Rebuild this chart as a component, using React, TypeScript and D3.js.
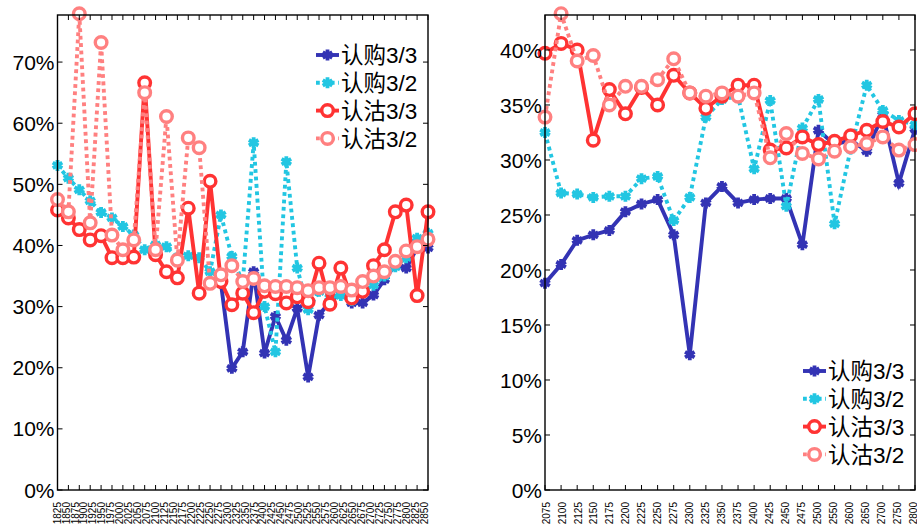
import React from "react";
import * as d3 from "d3";

// ---------- data ----------
const leftTickLabels = ["1825","1850","1875","1900","1925","1950","1975","2000","2025","2050","2075","2100","2125","2150","2175","2200","2225","2250","2275","2300","2325","2350","2375","2400","2425","2450","2475","2500","2525","2550","2575","2600","2625","2650","2675","2700","2725","2750","2775","2800","2825","2850"];
const rightTickLabels = ["2075","2100","2125","2150","2175","2200","2225","2250","2275","2300","2325","2350","2375","2400","2425","2450","2475","2500","2550","2600","2650","2700","2750","2800"];

const seriesNames = ["认购3/3", "认购3/2", "认沽3/3", "认沽3/2"];

const leftCall33: (number | null)[] = [null, null, null, null, null, null, null, null, null, null, null, null, null, null, null, 33.8, 19.9, 22.6, 35.7, 22.4, 28.4, 24.5, 29.7, 18.5, 28.6, 30.8, 32.2, 30.6, 30.6, 31.9, 34.4, 36.8, 36.3, 39.6, 39.6];
const leftCall32: (number | null)[] = [53.1, 51.0, 49.1, 47.3, 45.4, 44.5, 43.1, 41.7, 39.3, 40.1, 39.8, 38.0, 38.3, 38.0, 35.7, 45.0, 38.2, 34.0, 56.8, 30.0, 22.6, 53.7, 36.3, 29.5, 32.5, 31.5, 31.8, 31.0, 32.5, 33.5, 35.0, 36.5, 38.0, 41.2, 42.0];
const leftPut33: (number | null)[] = [45.8, 44.5, 42.6, 40.9, 41.6, 38.0, 38.0, 38.1, 66.6, 38.5, 35.7, 34.7, 46.1, 32.2, 50.5, 34.1, 30.3, 32.2, 29.0, 32.5, 32.1, 30.6, 31.6, 30.8, 37.1, 30.4, 36.3, 31.4, 32.5, 36.7, 39.3, 45.5, 46.6, 31.8, 45.5];
const leftPut32: (number | null)[] = [47.5, 45.5, 77.9, 43.7, 73.2, 41.7, 39.3, 40.9, 65.0, 39.3, 61.1, 37.6, 57.6, 56.0, 33.8, 35.2, 36.7, 34.1, 34.6, 33.4, 33.3, 33.3, 33.1, 32.6, 33.1, 33.1, 33.3, 32.7, 34.1, 35.0, 35.7, 37.4, 39.1, 39.8, 41.0];

const rightCall33: (number | null)[] = [18.8, 20.5, 22.7, 23.2, 23.6, 25.3, 26.0, 26.4, 23.2, 12.3, 26.1, 27.6, 26.1, 26.4, 26.5, 26.5, 22.3, 32.7, 31.4, 31.8, 30.8, 34.1, 27.9, 32.8];
const rightCall32: (number | null)[] = [32.5, 27.0, 26.9, 26.6, 26.7, 26.7, 28.3, 28.5, 24.5, 26.6, 33.9, 35.5, 35.8, 29.2, 35.4, 25.8, 32.9, 35.5, 24.2, 31.0, 36.8, 34.5, 33.6, 33.2];
const rightPut33: (number | null)[] = [39.7, 40.6, 40.0, 31.8, 36.4, 34.2, 36.6, 35.0, 37.7, 36.1, 34.7, 35.8, 36.8, 36.8, 30.9, 31.1, 32.1, 31.4, 31.7, 32.2, 32.7, 33.5, 33.0, 34.2];
const rightPut32: (number | null)[] = [33.9, 43.3, 39.0, 39.5, 35.0, 36.7, 36.7, 37.3, 39.2, 36.1, 35.8, 36.1, 35.8, 36.1, 30.2, 32.4, 30.6, 30.1, 30.8, 31.2, 31.5, 32.1, 30.9, 31.4];

const leftYTicks = [0, 10, 20, 30, 40, 50, 60, 70];
const rightYTicks = [0, 5, 10, 15, 20, 25, 30, 35, 40];

// ---------- styles ----------
const COLORS = ["#3333b4", "#22c6e2", "#ff3333", "#ff8080"];
const DASHED = [false, true, false, true];
const MARKER = ["star", "star", "circle", "circle"];
const FONT = "'Liberation Sans', Arial, 'Noto Sans CJK SC', sans-serif";

const starPath = d3.symbol().type(d3.symbolAsterisk).size(85)();

function Marker({ kind, color, x, y }: { kind: string; color: string; x: number; y: number }) {
  if (kind === "circle") {
    return <circle cx={x} cy={y} r={5.8} fill="#fff" stroke={color} strokeWidth={3.4} />;
  }
  return (
    <path d={starPath as string} transform={`translate(${x},${y})`} fill="none" stroke={color} strokeWidth={3.8} />
  );
}

type PanelProps = {
  left: number;
  right: number;
  top: number;
  bottom: number;
  yMax: number;
  yTicks: number[];
  tickLabels: string[];
  labelRange: [number, number];
  series: (number | null)[][];
  legendX: number;
  legendY: number;
};

function Panel(p: PanelProps) {
  const n = p.series[0].length;
  const x = d3.scalePoint<number>().domain(d3.range(n)).range([p.left, p.right]);
  const xl = d3.scalePoint<string>().domain(p.tickLabels).range(p.labelRange);
  const y = d3.scaleLinear().domain([0, p.yMax]).range([p.bottom, p.top]);
  const line = d3
    .line<number | null>()
    .defined((d) => d !== null)
    .x((_, i) => x(i) as number)
    .y((d) => y(d as number));
  const tl = 5;
  return (
    <g>
      {p.series.map((s, k) => (
        <g key={k}>
          <path
            d={line(s) as string}
            fill="none"
            stroke={COLORS[k]}
            strokeWidth={3.9}
            strokeDasharray={DASHED[k] ? "3.8 3.6" : undefined}
            strokeLinejoin="miter"
          />
          {s.map((v, i) =>
            v === null ? null : <Marker key={i} kind={MARKER[k]} color={COLORS[k]} x={x(i) as number} y={y(v)} />
          )}
        </g>
      ))}
      {/* frame */}
      <rect x={p.left} y={p.top} width={p.right - p.left} height={p.bottom - p.top} fill="none" stroke="#000" strokeWidth={1.4} />
      {/* x ticks */}
      {d3.range(n).map((i) => (
        <g key={i}>
          <line x1={x(i)} x2={x(i)} y1={p.bottom} y2={p.bottom - tl} stroke="#000" strokeWidth={1} />
          <line x1={x(i)} x2={x(i)} y1={p.top} y2={p.top + tl} stroke="#000" strokeWidth={1} />
        </g>
      ))}
      {/* y ticks */}
      {p.yTicks.map((t) => (
        <g key={t}>
          <line x1={p.left} x2={p.left + tl} y1={y(t)} y2={y(t)} stroke="#000" strokeWidth={1} />
          <line x1={p.right} x2={p.right - tl} y1={y(t)} y2={y(t)} stroke="#000" strokeWidth={1} />
          <text x={p.left - 3} y={y(t)} dy="0.36em" textAnchor="end" fontSize={21} fontFamily={FONT} fill="#000">
            {t}%
          </text>
        </g>
      ))}
      {/* x labels */}
      {p.tickLabels.map((lab) => (
        <text
          key={lab}
          transform={`translate(${xl(lab)},${p.bottom + 12}) rotate(-90)`}
          dy="0.36em"
          textAnchor="end"
          fontSize={10}
          fontFamily={FONT}
          fill="#000"
        >
          {lab}
        </text>
      ))}
      {/* legend */}
      {seriesNames.map((name, k) => {
        const ly = p.legendY + k * 27.8;
        return (
          <g key={name}>
            <line
              x1={p.legendX}
              x2={p.legendX + 23}
              y1={ly}
              y2={ly}
              stroke={COLORS[k]}
              strokeWidth={3.9}
              strokeDasharray={DASHED[k] ? "3.8 3.6" : undefined}
            />
            <Marker kind={MARKER[k]} color={COLORS[k]} x={p.legendX + 11.5} y={ly} />
            <text x={p.legendX + 25} y={ly} dy="0.36em" fontSize={22.5} fontFamily={FONT} fill="#000">
              {name}
            </text>
          </g>
        );
      })}
    </g>
  );
}

export default function App() {
  return (
    <svg width={917} height={525} style={{ position: "absolute", left: 0, top: 0, background: "#fff" }}>
      <rect width={917} height={525} fill="#fff" />
      <Panel
        left={57.5}
        right={428}
        top={15}
        bottom={490}
        yMax={77.7}
        yTicks={leftYTicks}
        tickLabels={leftTickLabels}
        labelRange={[57, 424]}
        series={[leftCall33, leftCall32, leftPut33, leftPut32]}
        legendX={316}
        legendY={55}
      />
      <Panel
        left={545}
        right={915}
        top={15}
        bottom={490}
        yMax={43.18}
        yTicks={rightYTicks}
        tickLabels={rightTickLabels}
        labelRange={[546, 913]}
        series={[rightCall33, rightCall32, rightPut33, rightPut32]}
        legendX={803}
        legendY={371}
      />
    </svg>
  );
}
